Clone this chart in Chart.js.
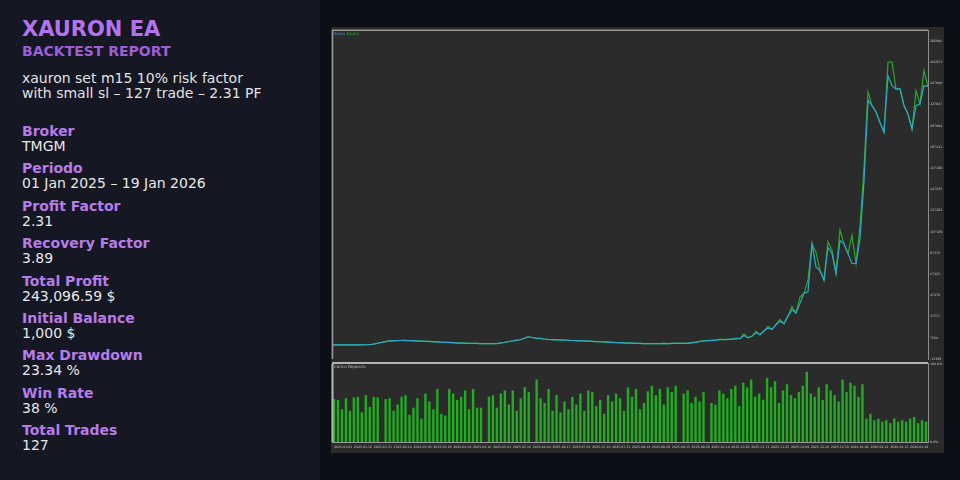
<!DOCTYPE html>
<html>
<head>
<meta charset="utf-8">
<script src="https://cdn.jsdelivr.net/npm/chart.js"></script>
<style>
    body { margin: 0; width: 960px; height: 480px; background: #0d0f17; overflow: hidden; font-family: "DejaVu Sans", sans-serif; }
    #side { position: absolute; left: 0; top: 0; width: 320px; height: 480px; background: #151722; box-sizing: border-box; padding: 17px 0 0 22px; }
    #side h1 { margin: 0; font: 700 21px/24px "DejaVu Sans"; color: #b473ee; }
    #side h2 { margin: 2px 0 0; font: 700 14px/16px "DejaVu Sans"; color: #9c5fd8; }
    #side .desc { margin-top: 12px; font: 400 14px/15px "DejaVu Sans"; color: #e2e2e2; }
    #side .stats { margin-top: 23px; }
    #side .lbl { font: 700 14px/15px "DejaVu Sans"; color: #b67ce8; }
    #side .val { font: 400 14px/15px "DejaVu Sans"; color: #e8e8e8; margin-bottom: 7.4px; }
    #frame { position: absolute; left: 331px; top: 27px; width: 613px; height: 426px; background: #2b2b2b; }
    #frame canvas { position: absolute; left: 0; }
    #eqChart { top: 0; }
    #loadChart { top: 333px; }
    .tiny { position: absolute; font: 4px/5px "DejaVu Sans"; white-space: nowrap; }
</style>
</head>
<body>
<div id="side">
    <h1>XAURON EA</h1>
    <h2>BACKTEST REPORT</h2>
    <div class="desc">xauron set m15 10% risk factor<br>with small sl – 127 trade – 2.31 PF</div>
    <div class="stats" id="stats"></div>
</div>
<div id="frame">
    <canvas id="eqChart" width="613" height="336"></canvas>
    <canvas id="loadChart" width="613" height="93"></canvas>
    <div class="tiny" style="left:3px; top:4px;"><span style="color:#3a8fe0">Saldo</span> <span style="color:#27b027">Equity</span></div>
    <div class="tiny" style="left:3px; top:337px; color:#bdbdbd;">Carico Deposito</div>
</div>
<script>
const statLabels = ['Broker', 'Periodo', 'Profit Factor', 'Recovery Factor', 'Total Profit', 'Initial Balance', 'Max Drawdown', 'Win Rate', 'Total Trades'];
const statValues = ['TMGM', '01 Jan 2025 – 19 Jan 2026', '2.31', '3.89', '243,096.59 $', '1,000 $', '23.34 %', '38 %', '127'];

const balance = [
    1000, 1000, 1010, 1020, 1000, 1030, 1050, 1040, 1080, 1100,
    1500, 2200, 3000, 3800, 4500, 4700, 4900, 5100, 5200, 5000,
    4900, 4700, 4500, 4300, 4200, 4000, 3800, 3600, 3400, 3300,
    3100, 2900, 2700, 2600, 2400, 2300, 2300, 2200, 2200, 2100,
    2100, 2100, 2600, 3200, 3900, 4600, 5200, 5800, 7000, 8600,
    7900, 7400, 7000, 6500, 6100, 5900, 5700, 5600, 5500, 5300,
    5100, 5000, 4800, 4700, 4500, 4300, 4100, 3900, 3700, 3500,
    3300, 3100, 3000, 2900, 2700, 2600, 2400, 2300, 2200, 2100,
    2100, 2200, 2200, 2300, 2200, 2300, 2400, 2300, 2400, 2400,
    3000, 3600, 4300, 4600, 4900, 5200, 5500, 5800, 6000, 6200,
    6400, 6600, 6800, 9800, 7700, 9000, 12400, 10500, 14000, 17000,
    15500, 20000, 23100, 21000, 28000, 34000, 31000, 40000, 49700, 50800,
    96000, 74000, 71000, 61800, 92800, 86800, 68200, 99000, 96000, 86800,
    77500, 77500, 100800, 155000, 231000, 226000, 220000, 210000, 201000, 254000,
    244800, 241700, 241700, 226000, 218000, 204000, 226000, 227600, 244800, 244096
];

const equity = [
    1000, 1000, 1010, 1020, 1000, 1030, 1050, 1040, 1080, 1100,
    1500, 2200, 3000, 3800, 4500, 4700, 4900, 5100, 5200, 5000,
    4900, 4700, 4500, 4300, 4200, 4000, 3800, 3600, 3400, 3300,
    3100, 2900, 2700, 2600, 2400, 2300, 2300, 2200, 2200, 2100,
    2100, 2100, 2600, 3200, 3900, 4600, 5200, 5800, 7000, 8600,
    7900, 7400, 7000, 6500, 6100, 5900, 5700, 5600, 5500, 5300,
    5100, 5000, 4800, 4700, 4500, 4300, 4100, 3900, 3700, 3500,
    3300, 3100, 3000, 2900, 2700, 2600, 2400, 2300, 2200, 2100,
    2100, 2200, 2200, 2300, 2200, 2300, 2400, 2300, 2400, 2400,
    3000, 3600, 4300, 5000, 4900, 5200, 5500, 6300, 6000, 6200,
    6400, 7400, 6800, 11400, 7700, 9000, 13800, 10500, 14000, 18500,
    15500, 20000, 25000, 21000, 28000, 37000, 31000, 46000, 49700, 61800,
    96000, 88000, 71000, 61800, 98000, 90000, 68200, 109000, 96000, 86800,
    104000, 77500, 113000, 168000, 239000, 226000, 220000, 210000, 201000, 267000,
    267000, 241700, 241700, 226000, 218000, 204000, 240000, 227600, 259000, 244096
];

// deposit load, %
const load = [
    55, 54, 42, 56, 40, 57, 58, 38, 60, 45, 58, 57, 0, 55, 56, 40, 48, 58, 60, 35,
    44, 56, 30, 62, 52, 42, 68, 36, 34, 68, 62, 54, 58, 66, 42, 68, 44, 44, 0, 58,
    60, 44, 62, 66, 48, 66, 40, 56, 70, 64, 0, 80, 56, 50, 68, 40, 60, 38, 52, 42,
    58, 48, 62, 40, 66, 64, 46, 54, 36, 60, 52, 62, 56, 40, 70, 58, 68, 42, 50, 65,
    72, 60, 68, 48, 70, 64, 72, 0, 62, 66, 50, 58, 52, 64, 0, 50, 48, 66, 62, 56,
    68, 72, 46, 76, 70, 80, 58, 62, 54, 82, 70, 78, 50, 66, 74, 60, 56, 64, 72, 90,
    62, 58, 70, 54, 74, 66, 60, 52, 80, 64, 76, 72, 58, 74, 30, 36, 28, 30, 26, 28,
    24, 30, 26, 28, 26, 30, 32, 24, 28, 26
];

const eqTicks = [-12389, 7564, 27517, 47470, 67423, 87376, 107329, 127282, 147235, 167188, 187141, 207094, 227047, 247000, 266953, 286906];
const loadTicks = [0, 100];
const dateTicks = [
    '2025.01.01', '2025.01.16', '2025.01.31', '2025.02.14', '2025.03.03', '2025.03.18',
    '2025.04.02', '2025.04.16', '2025.05.01', '2025.05.16', '2025.06.02', '2025.06.17',
    '2025.07.01', '2025.07.16', '2025.07.31', '2025.08.14', '2025.08.29', '2025.09.15',
    '2025.09.29', '2025.10.14', '2025.10.28', '2025.11.11', '2025.11.25', '2025.12.09',
    '2025.12.19', '2025.12.30', '2026.01.06', '2026.01.12', '2026.01.15', '2026.01.19'
];

const stats = document.getElementById('stats');
statLabels.forEach((name, i) => {
    const l = document.createElement('div');
    l.className = 'lbl';
    l.textContent = name;
    const v = document.createElement('div');
    v.className = 'val';
    v.textContent = statValues[i];
    stats.append(l, v);
});

const steps = balance.map((_, i) => i);

// light frame lines like the MT5 tester window
const frameLines = {
    id: 'frameLines',
    afterDraw(chart, args, opts) {
        const { ctx, chartArea: a } = chart;
        ctx.save();
        ctx.strokeStyle = opts.color;
        ctx.lineWidth = opts.width;
        ctx.beginPath();
        ctx.moveTo(a.left, a.top - opts.width / 2);
        ctx.lineTo(a.right, a.top - opts.width / 2);
        ctx.moveTo(a.left + 0.5, a.top);
        ctx.lineTo(a.left + 0.5, a.bottom);
        ctx.stroke();
        ctx.restore();
    }
};

const axisFont = { family: 'DejaVu Sans', size: 3.2 };
const noGrid = { display: false, drawTicks: false, tickLength: 0 };

new Chart(document.getElementById('eqChart'), {
    type: 'line',
    data: {
        labels: steps,
        datasets: [
            { label: 'Saldo', data: balance, borderColor: '#2fa8cf', borderWidth: 1.2, pointRadius: 0, tension: 0 },
            { label: 'Equity', data: equity, borderColor: '#22ad22', borderWidth: 1.2, pointRadius: 0, tension: 0 }
        ]
    },
    options: {
        responsive: false,
        animation: false,
        devicePixelRatio: 1,
        layout: { padding: { top: 2, left: 1, right: 0, bottom: 1 } },
        plugins: { legend: { display: false }, tooltip: { enabled: false }, frameLines: { color: '#9a9a9a', width: 1.5 } },
        scales: {
            x: { display: false, offset: false },
            y: {
                position: 'right',
                min: -12389,
                max: 296230,
                afterBuildTicks: (s) => { s.ticks = eqTicks.map(v => ({ value: v })); },
                afterFit: (s) => { s.width = 16; },
                grid: noGrid,
                border: { color: '#8e8e8e', width: 1 },
                ticks: { color: '#c4c4c4', font: axisFont, padding: 2, callback: (v) => String(v) }
            }
        }
    },
    plugins: [frameLines]
});

new Chart(document.getElementById('loadChart'), {
    type: 'bar',
    data: {
        labels: steps,
        datasets: [{ label: 'Carico Deposito', data: load, backgroundColor: '#20ad20', borderWidth: 0, barPercentage: 0.6, categoryPercentage: 1 }]
    },
    options: {
        responsive: false,
        animation: false,
        devicePixelRatio: 1,
        layout: { padding: { top: 2, left: 1, right: 0, bottom: 1 } },
        plugins: { legend: { display: false }, tooltip: { enabled: false }, frameLines: { color: '#b4b4b4', width: 2 } },
        scales: {
            x: {
                grid: noGrid,
                border: { color: '#9a9a9a', width: 1 },
                afterFit: (s) => { s.height = 10; },
                ticks: {
                    color: '#c4c4c4', font: axisFont, padding: 3, maxRotation: 0, autoSkip: false, align: 'start',
                    callback: (v, i) => (i % 5 === 0 ? dateTicks[i / 5] : '')
                }
            },
            y: {
                position: 'right',
                min: 0,
                max: 100,
                afterBuildTicks: (s) => { s.ticks = loadTicks.map(v => ({ value: v })); },
                afterFit: (s) => { s.width = 16; },
                grid: noGrid,
                border: { color: '#8e8e8e', width: 1 },
                ticks: { color: '#c4c4c4', font: axisFont, padding: 2, callback: (v) => v.toFixed(1) + '%' }
            }
        }
    },
    plugins: [frameLines]
});
</script>
</body>
</html>
